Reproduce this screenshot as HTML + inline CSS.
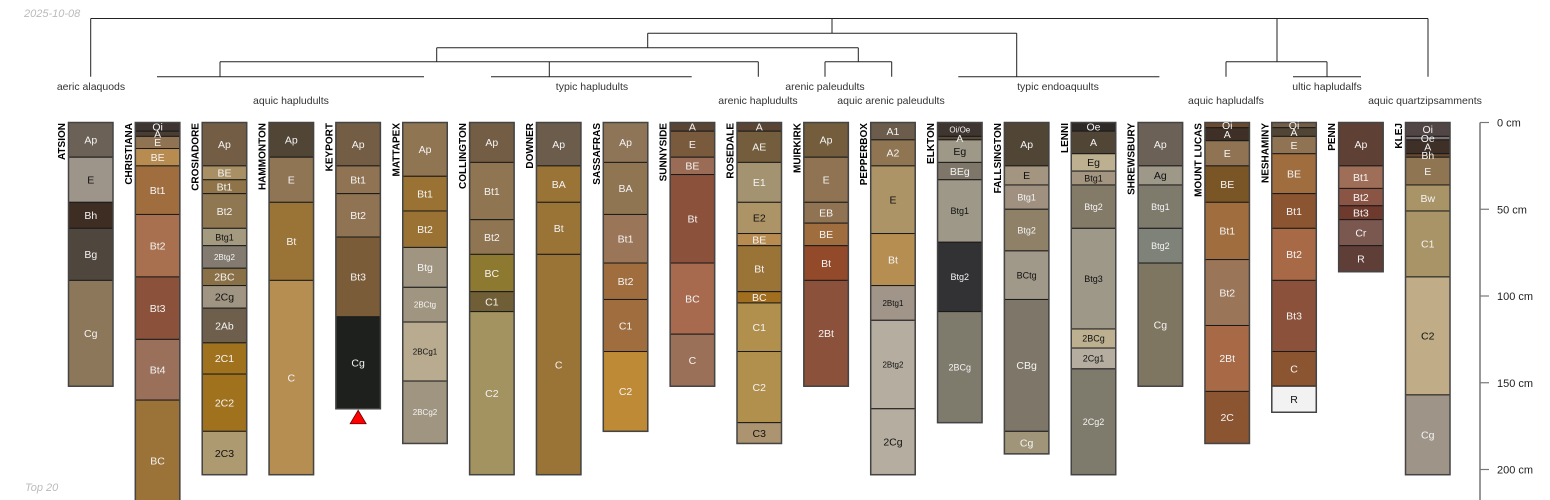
<!DOCTYPE html>
<html><head><meta charset="utf-8"><style>
html,body{margin:0;padding:0;background:#fff;}
svg{display:block;font-family:"Liberation Sans",sans-serif;}
</style></head><body>
<svg id="chart" width="1550" height="500" viewBox="0 0 1550 500" xmlns="http://www.w3.org/2000/svg">
<text x="24" y="17" font-size="11" font-style="italic" fill="#bbb">2025-10-08</text>
<text x="25" y="491" font-size="11" font-style="italic" fill="#bbb">Top 20</text>
<g id="dendro" stroke="#222" stroke-width="1" fill="none">
<path d="M90.7 18.5H1428M90.7 18.5V76.7M832 18.5V33.3M647.7 33.3H1016.7M647.7 33.3V47.7M436.7 47.7H858.3M436.7 47.7V61.7M220 61.7H758.3M220 61.7V76.7M157 76.7H424M549.3 61.7V76.7M491 76.7H691.7M758.3 61.7V76.7M858.3 47.7V61.7M825 61.7H891.7M825 61.7V76.7M891.7 61.7V76.7M1016.7 33.3V76.7M958.3 76.7H1159.4M1277 18.5V61.7M1226 61.7H1327M1226 61.7V76.7M1327 61.7V76.7M1293 76.7H1361M1428 18.5V76.7"/>
</g>
<g font-size="10.5" fill="#333" text-anchor="middle">
<text x="91" y="90">aeric alaquods</text>
<text x="291" y="104">aquic hapludults</text>
<text x="592" y="90">typic hapludults</text>
<text x="758" y="104">arenic hapludults</text>
<text x="825" y="90">arenic paleudults</text>
<text x="891" y="104">aquic arenic paleudults</text>
<text x="1058" y="90">typic endoaquults</text>
<text x="1226" y="104">aquic hapludalfs</text>
<text x="1327" y="90">ultic hapludalfs</text>
<text x="1425" y="104">aquic quartzipsamments</text>
</g>
<g id="profiles"></g>
<g id="axis"></g>
</svg>
<script>
const profileNames = ["ATSION","CHRISTIANA","CROSIADORE","HAMMONTON","KEYPORT","MATTAPEX","COLLINGTON","DOWNER","SASSAFRAS","SUNNYSIDE","ROSEDALE","MUIRKIRK","PEPPERBOX","ELKTON","FALLSINGTON","LENNI","SHREWSBURY","MOUNT LUCAS","NESHAMINY","PENN","KLEJ"];
const horizonNames = [
["Ap","E","Bh","Bg","Cg"],
["Oi","A","E","BE","Bt1","Bt2","Bt3","Bt4","BC"],
["Ap","BE","Bt1","Bt2","Btg1","2Btg2","2BC","2Cg","2Ab","2C1","2C2","2C3"],
["Ap","E","Bt","C"],
["Ap","Bt1","Bt2","Bt3","Cg"],
["Ap","Bt1","Bt2","Btg","2BCtg","2BCg1","2BCg2"],
["Ap","Bt1","Bt2","BC","C1","C2"],
["Ap","BA","Bt","C"],
["Ap","BA","Bt1","Bt2","C1","C2"],
["A","E","BE","Bt","BC","C"],
["A","AE","E1","E2","BE","Bt","BC","C1","C2","C3"],
["Ap","E","EB","BE","Bt","2Bt"],
["A1","A2","E","Bt","2Btg1","2Btg2","2Cg"],
["Oi/Oe","A","Eg","BEg","Btg1","Btg2","2BCg"],
["Ap","E","Btg1","Btg2","BCtg","CBg","Cg"],
["Oe","A","Eg","Btg1","Btg2","Btg3","2BCg","2Cg1","2Cg2"],
["Ap","Ag","Btg1","Btg2","Cg"],
["Oi","A","E","BE","Bt1","Bt2","2Bt","2C"],
["Oi","A","E","BE","Bt1","Bt2","Bt3","C","R"],
["Ap","Bt1","Bt2","Bt3","Cr","R"],
["Oi","Oe","A","Bh","E","Bw","C1","C2","Cg"]
];
const horizonBottoms = [
[20,46,61,91,152],
[5,8,15,25,53,89,125,160,230],
[25,33,41,61,71,84,94,107,127,145,178,203],
[20,46,91,203],
[25,41,66,112,165],
[31,51,72,95,115,149,185],
[23,56,76,97.5,109,203],
[25,46,76,203],
[23,53,81,102,132,178],
[5,20,30,81,122,152],
[5,23,46,64,71,97.5,104,132,173,185],
[20,46,58,71,91,152],
[10,25,64,94,114,165,203],
[8,10,23,33,69,109,173],
[25,36,50,74,102,178,191],
[5,18,28,36,61,119,130,142,203],
[25,36,61,81,152],
[3,10.5,25,46,79,117,155,185],
[3,8,18,41,61,91,132,152,167],
[25,38,48,56,71,86],
[8,10,18,20,36,51,89,157,203]
];
const horizonColors = [
["#6b6156","#9e958a","#3e2d23","#4f463d","#8c775b"],
["#3f3530","#4a3d33","#8f7352","#b88b50","#a06e3e","#a8704e","#8b513a","#9a705a","#9b7338"],
["#735d44","#a89064","#8f7349","#8f7752","#a39a80","#837a70","#8a7046","#a09582","#6e5e4c","#a0721e","#a0721e","#ad9a70"],
["#514535","#8f7554","#9a7336","#b68e52"],
["#735d44","#8f7352","#8f7352","#7a5c38","#1e201e"],
["#8f7552","#9a7334","#9a7334","#a09580","#a09580","#b8ab90","#a09580"],
["#735d44","#8f7552","#8f7552","#8d7a30","#705e36","#a39360"],
["#6b5c4c","#9a7336","#9a7336","#9a7336"],
["#8f7558","#8f7552","#9a7558","#a06e3e","#a06e3e","#be8a36"],
["#5a4535","#7a5a3c","#9a6c55","#8b513a","#a86a4e","#9a7058"],
["#5a4535","#735d3c","#a39370","#ad9466","#b88b50","#9a7336","#a06e1e","#b0904c","#b0904c","#ad9470"],
["#735d3c","#8f7352","#8f7352","#a06e3e","#924a2a","#8b513a"],
["#6b5c4c","#8f7552","#ad9466","#b68e52","#a09588","#b5ada0","#b5ada0"],
["#3f3530","#5a4a35","#9e9888","#7e7668","#9e9888","#323234","#7e7a6c"],
["#514535","#a39580","#a09080","#8f8068","#a09888","#7e7668","#a09578"],
["#2e2a28","#514535","#bcb090","#a39580","#837a68","#9e9888","#bcb090","#b5ada0","#7e7a6c"],
["#6b6156","#9e9888","#7e7a6c","#7e8278","#7e7660"],
["#6b4a30","#3e3026","#8f7352","#7a5626","#a06e3e","#9a7558","#a86a46","#8b5532"],
["#735d44","#514535","#8f7352","#a06e3e","#8b5532","#a86a46","#8b513a","#8b5532","#f2f2f2"],
["#5e4034","#9e6e58","#8b5545","#6e3a2e","#7a5850","#603e38"],
["#514545","#7a7070","#3e3026","#6b4a30","#8f7552","#a89466","#a89466","#c0ad88","#9e9488"]
];
const truncatedProfiles = ["KEYPORT"];
const depthTicks = [0,50,100,150,200];

const NS = "http://www.w3.org/2000/svg";
const Y0 = 122.5, PXCM = 1.735, X0 = 68.5, DX = 66.85, W = 44.5;
function yScale(d){ return Y0 + d*PXCM; }
function xScale(i){ return X0 + i*DX; }
function lum(hex){ const r=parseInt(hex.substr(1,2),16),g=parseInt(hex.substr(3,2),16),b=parseInt(hex.substr(5,2),16); return 0.299*r+0.587*g+0.114*b; }
function mk(tag, attrs){ const e=document.createElementNS(NS,tag); for(const k in attrs) e.setAttribute(k,attrs[k]); return e; }

const gp = document.getElementById("profiles");
profileNames.forEach((pname,i)=>{
  const g = mk("g",{});
  
  
  const x = xScale(i);
  let top = 0;
  const bots = horizonBottoms[i];
  horizonNames[i].forEach((hn,j)=>{
    const y1 = yScale(top), y2 = yScale(bots[j]);
    const r = mk("rect",{x:x,y:y1,width:W,height:y2-y1,fill:horizonColors[i][j],stroke:"#1a1a1a","stroke-width":1});
    
    
    g.appendChild(r);
    top = bots[j];
  });
  const outline = mk("rect",{x:x,y:yScale(0),width:W,height:yScale(bots[bots.length-1])-yScale(0),fill:"none",stroke:"#444","stroke-width":1.5});
  
  
  g.appendChild(outline);
  top = 0;
  horizonNames[i].forEach((hn,j)=>{
    const mid = (yScale(top)+yScale(bots[j]))/2;
    const fs = hn.length>=5 ? 8 : (hn.length==4 ? 9 : 10.5);
    const t = mk("text",{x:x+W/2,y:mid+fs*0.36,"font-size":fs,"text-anchor":"middle",fill: lum(horizonColors[i][j])>150 ? "#111" : "#f4f4f4"});
    t.textContent = hn;
    
    
    g.appendChild(t);
    top = bots[j];
  });
  const lx = x-3.5, ly = yScale(0)+0.5;
  const nl = mk("text",{x:lx,y:ly,"font-size":10,"font-weight":"bold","text-anchor":"end",fill:"#000",transform:"rotate(-90 "+lx+" "+ly+")"});
  nl.textContent = pname;
  
  
  g.appendChild(nl);
  if(truncatedProfiles.indexOf(pname)>=0){
    const yb = yScale(bots[bots.length-1]);
    const cx = x+W/2;
    const tri = mk("polygon",{points:(cx-8)+","+(yb+15)+" "+(cx+8)+","+(yb+15)+" "+cx+","+(yb+1.5),fill:"#ff0000",stroke:"#600","stroke-width":0.8});
    
    
    g.appendChild(tri);
  }
  gp.appendChild(g);
});

const ga = document.getElementById("axis");
const al = mk("line",{x1:1480,y1:yScale(0),x2:1480,y2:500,stroke:"#777","stroke-width":1.5});


ga.appendChild(al);
depthTicks.forEach(d=>{
  const y = yScale(d);
  const tk = mk("line",{x1:1480,y1:y,x2:1489,y2:y,stroke:"#777","stroke-width":1.2});
  
  
  ga.appendChild(tk);
  const tl = mk("text",{x:1497,y:y+4,"font-size":11,fill:"#222"});
  tl.textContent = d+" cm";
  
  
  ga.appendChild(tl);
});
</script>
</body></html>
